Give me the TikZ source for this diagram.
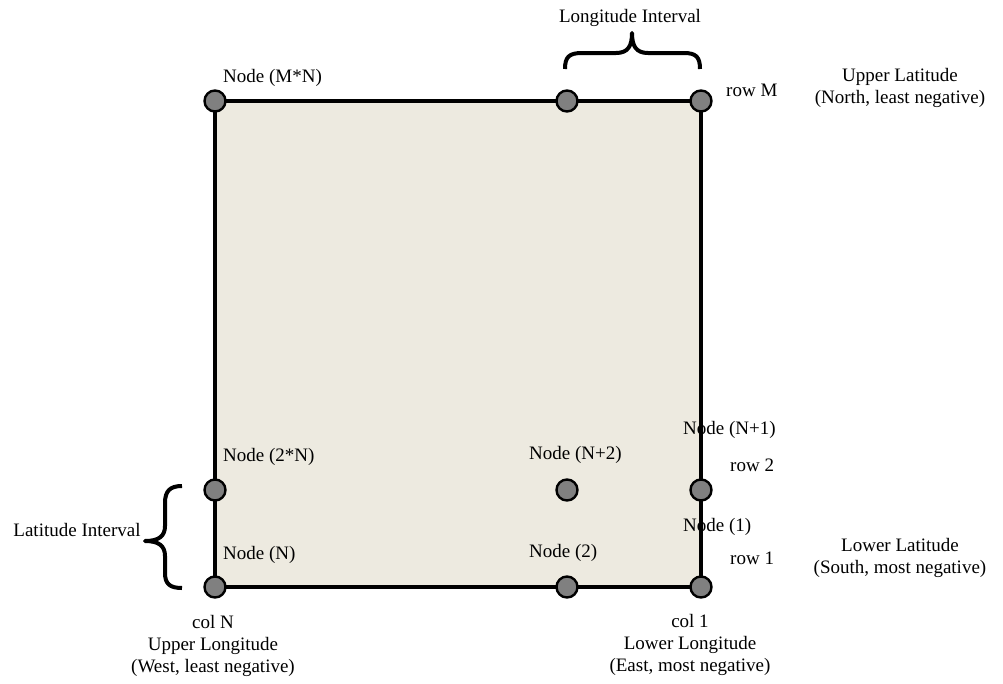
\documentclass[tikz,border=0pt]{standalone}
\usepackage{fontspec}
\setmainfont{Liberation Serif}
\definecolor{cellfill}{RGB}{237,234,224}
\definecolor{nodegray}{RGB}{128,128,128}
\begin{document}
\begin{tikzpicture}[x=1pt,y=-1pt,
  lbl/.style={font=\fontsize{19}{22}\selectfont, inner sep=0pt, text=black},
  gridpt/.style={circle, draw=black, line width=2.4pt, fill=nodegray, minimum size=21pt, inner sep=0pt},
  edgeline/.style={line width=3.8pt, draw=black},
  bracestyle/.style={line width=4pt, line cap=butt, line join=round, draw=black}]
\useasboundingbox (0,0) rectangle (1003,683);

% grid positions
\coordinate (p31) at (701,101);
\coordinate (p32) at (567,101);
\coordinate (p33) at (215,101);
\coordinate (p21) at (701,490);
\coordinate (p22) at (567,490);
\coordinate (p23) at (215,490);
\coordinate (p11) at (701,587);
\coordinate (p12) at (567,587);
\coordinate (p13) at (215,587);

% cell fill
\fill[cellfill] (p33) rectangle (p11);

% labels
\node[lbl, anchor=west] (tMN) at (223,78) {Node (M*N)};
\node[lbl, anchor=west] (t2N) at (223,457) {Node (2*N)};
\node[lbl, anchor=west] (tN) at (223,555) {Node (N)};
\node[lbl, anchor=west] (tN2) at (529,455) {Node (N+2)};
\node[lbl, anchor=west] (t2) at (529,553) {Node (2)};
\node[lbl, anchor=west] (tN1) at (683,430) {Node (N+1)};
\node[lbl, anchor=west] (t1) at (683,527) {Node (1)};
\node[lbl, anchor=west] (rM) at (726,90) {row M};
\node[lbl, anchor=west] (r2) at (730,465) {row 2};
\node[lbl, anchor=west] (r1) at (730,558) {row 1};
\node[lbl, align=center] (ulat) at (900,87.5) {Upper Latitude\\(North, least negative)};
\node[lbl, align=center] (llat) at (900,558) {Lower Latitude\\(South, most negative)};
\node[lbl, align=center] (colN) at (213,646) {col N\\Upper Longitude\\(West, least negative)};
\node[lbl, align=center] (col1) at (690,645) {col 1\\Lower Longitude\\(East, most negative)};
\node[lbl] (lonint) at (630,18) {Longitude Interval};
\node[lbl] (latint) at (77,530) {Latitude Interval};

% border
\draw[edgeline] (p33) -- (p31) -- (p11) -- (p13) -- cycle;

% braces
\draw[bracestyle] (565,69) .. controls (565,57) and (569,53) .. (582,53)
  -- (616,53) .. controls (628,53) and (632,46) .. (632,33)
  .. controls (632,46) and (636,53) .. (648,53)
  -- (684,53) .. controls (696,53) and (700,57) .. (700,69);
\draw[bracestyle] (182,486) .. controls (170,486) and (165,491) .. (165,503)
  -- (165,526) .. controls (165,536) and (159,541) .. (145,541)
  .. controls (159,541) and (165,546) .. (165,556)
  -- (165,573) .. controls (165,584) and (170,588) .. (182,588);

% grid nodes
\node[gridpt] (n31) at (p31) {};
\node[gridpt] (n32) at (p32) {};
\node[gridpt] (n33) at (p33) {};
\node[gridpt] (n21) at (p21) {};
\node[gridpt] (n22) at (p22) {};
\node[gridpt] (n23) at (p23) {};
\node[gridpt] (n11) at (p11) {};
\node[gridpt] (n12) at (p12) {};
\node[gridpt] (n13) at (p13) {};
\end{tikzpicture}
\end{document}
